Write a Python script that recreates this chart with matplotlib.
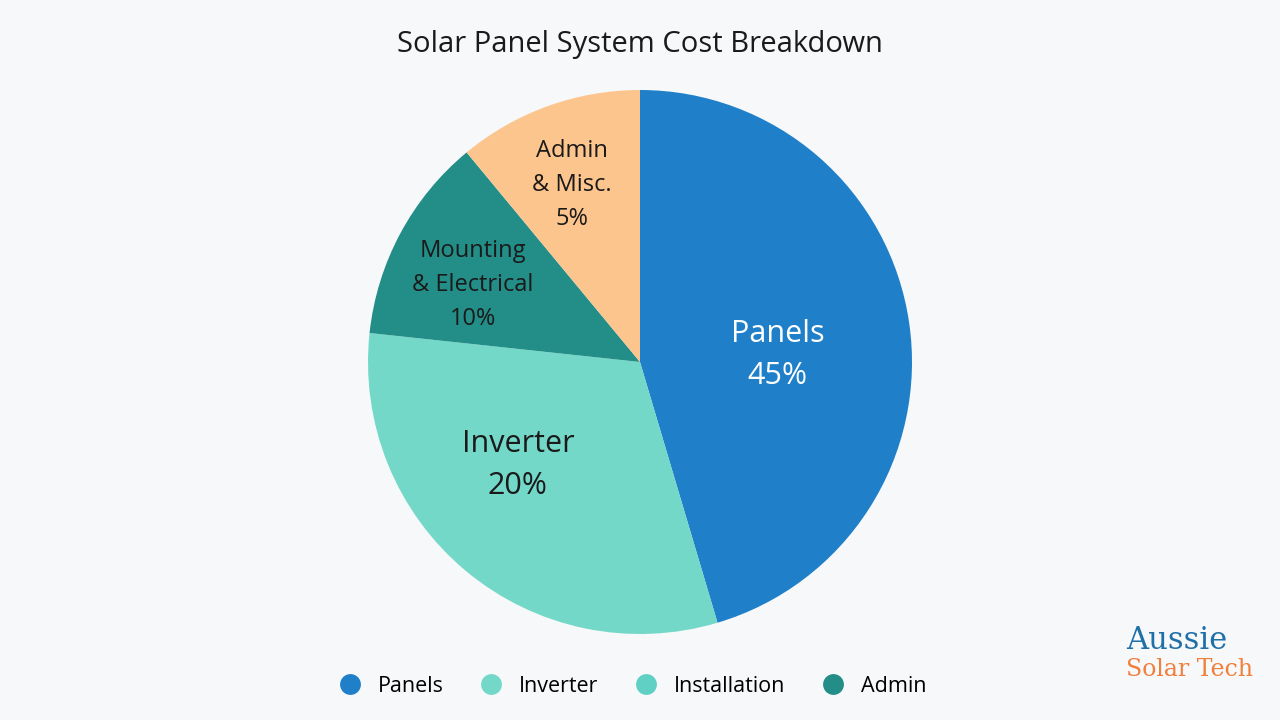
import matplotlib.pyplot as plt
from matplotlib.lines import Line2D

# wedge sizes as drawn (angles), labels as printed
slice_sizes = [45.4, 31.3, 12.3, 11.0]
slice_labels = ["Panels\n45%", "Inverter\n20%", "Mounting\n& Electrical\n10%", "Admin\n& Misc.\n5%"]
slice_colors = ["#1f7fc8", "#74d8c9", "#238e87", "#fdc58e"]
label_colors = ["white", "#1a1a1a", "#1a1a1a", "#1a1a1a"]
label_sizes = [22, 22, 17, 17]
label_pos = [(0.507, 0.026), (-0.449, -0.379), (-0.614, 0.283), (-0.25, 0.65)]

legend_names = ["Panels", "Inverter", "Installation", "Admin"]
legend_colors = ["#1f7fc8", "#74d8c9", "#5fd0c3", "#238e87"]

bg = "#f7f8fa"
plt.rcParams["font.family"] = "Open Sans"
fig = plt.figure(figsize=(12.8, 7.2), dpi=100, facecolor=bg)

r_px = 272
ax = fig.add_axes([(640 - r_px) / 1280, (720 - 362 - r_px) / 720, 2 * r_px / 1280, 2 * r_px / 720])
ax.set_facecolor(bg)
wedges, _ = ax.pie(slice_sizes, colors=slice_colors, startangle=90, counterclock=False,
                   wedgeprops=dict(edgecolor="none"))
ax.set_xlim(-1, 1)
ax.set_ylim(-1, 1)
ax.set_aspect("equal")
ax.axis("off")

for lab, c, s, (x, y) in zip(slice_labels, label_colors, label_sizes, label_pos):
    ax.text(x, y, lab, ha="center", va="center", color=c, fontsize=s, linespacing=1.55)

fig.text(0.5, 0.938, "Solar Panel System Cost Breakdown", ha="center", va="center",
         fontsize=21, color="#1a1a1a")

handles = [Line2D([], [], marker="o", linestyle="", markersize=15, markerfacecolor=c,
                  markeredgecolor="none") for c in legend_colors]
fig.legend(handles, legend_names, loc="center", bbox_to_anchor=(0.49, 0.047), ncol=4,
           frameon=False, fontsize=15.5, handletextpad=0.3, columnspacing=1.2)

fig.text(0.88, 0.11, "Aussie", fontsize=22, color="#1f6fa8", family="serif", va="center")
fig.text(0.88, 0.07, "Solar Tech", fontsize=17, color="#f07f3c", family="serif", va="center")

fig.savefig("out.png", dpi=100, facecolor=bg)
